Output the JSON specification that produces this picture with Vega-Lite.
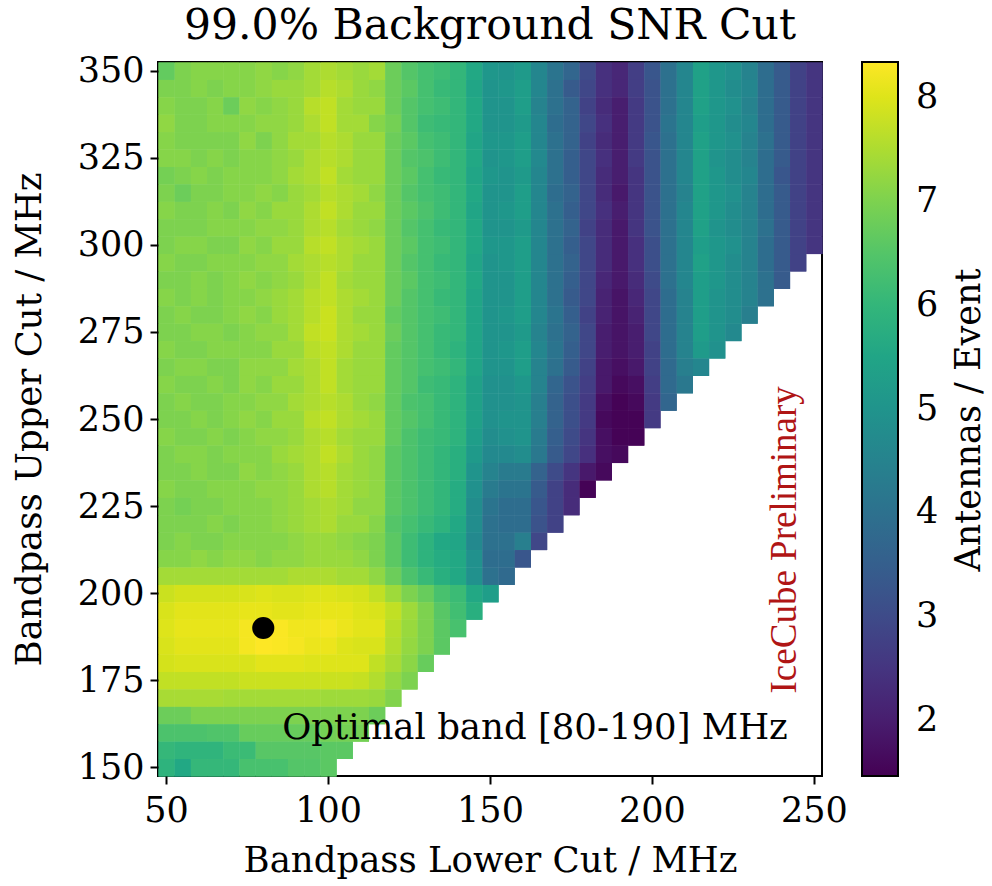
{
"$schema":"https://vega.github.io/schema/vega-lite/v6.json",
"width":664,"height":714,
"autosize":"none",
"padding":{"left":158,"top":62,"right":170,"bottom":110},
"background":"white",
"config":{
 "font":"DejaVu Serif",
 "view":{"stroke":"black","strokeWidth":2},
 "axis":{"labelFont":"DejaVu Serif","labelFontSize":35,"labelColor":"black","titleFont":"DejaVu Serif","titleFontSize":35.5,"titleFontWeight":"normal","titleColor":"black","tickColor":"black","tickWidth":2,"tickSize":8,"domain":false,"grid":false,"labelPadding":6,"labelFlush":false,"labelOverlap":false},
 "axisX":{"titlePadding":15,"labelPadding":9},
 "axisY":{"titlePadding":30}
},
"title":{"text":"99.0% Background SNR Cut","font":"DejaVu Serif","fontSize":42.5,"fontWeight":"normal","color":"black","offset":6,"anchor":"middle"},
"data":{"values":[
{"l":50,"u":350,"a":6.7},{"l":55,"u":350,"a":7.0},{"l":60,"u":350,"a":7.1},{"l":65,"u":350,"a":7.1},{"l":70,"u":350,"a":7.1},{"l":75,"u":350,"a":7.1},{"l":80,"u":350,"a":7.2},{"l":85,"u":350,"a":7.1},{"l":90,"u":350,"a":7.2},{"l":95,"u":350,"a":7.4},{"l":100,"u":350,"a":7.5},{"l":105,"u":350,"a":7.4},{"l":110,"u":350,"a":7.3},{"l":115,"u":350,"a":7.4},{"l":120,"u":350,"a":6.8},{"l":125,"u":350,"a":6.5},{"l":130,"u":350,"a":6.3},{"l":135,"u":350,"a":6.2},{"l":140,"u":350,"a":6.0},{"l":145,"u":350,"a":5.6},{"l":150,"u":350,"a":5.1},{"l":155,"u":350,"a":5.0},{"l":160,"u":350,"a":5.2},{"l":165,"u":350,"a":4.6},{"l":170,"u":350,"a":4.1},{"l":175,"u":350,"a":3.7},{"l":180,"u":350,"a":3.0},{"l":185,"u":350,"a":2.4},{"l":190,"u":350,"a":2.2},{"l":195,"u":350,"a":2.7},{"l":200,"u":350,"a":3.3},{"l":205,"u":350,"a":4.0},{"l":210,"u":350,"a":4.6},{"l":215,"u":350,"a":5.4},{"l":220,"u":350,"a":5.1},{"l":225,"u":350,"a":4.9},{"l":230,"u":350,"a":4.5},{"l":235,"u":350,"a":3.9},{"l":240,"u":350,"a":3.4},{"l":245,"u":350,"a":2.8},{"l":250,"u":350,"a":2.5},
{"l":50,"u":345,"a":7.0},{"l":55,"u":345,"a":7.0},{"l":60,"u":345,"a":7.1},{"l":65,"u":345,"a":7.0},{"l":70,"u":345,"a":7.1},{"l":75,"u":345,"a":7.1},{"l":80,"u":345,"a":7.2},{"l":85,"u":345,"a":7.3},{"l":90,"u":345,"a":7.3},{"l":95,"u":345,"a":7.4},{"l":100,"u":345,"a":7.6},{"l":105,"u":345,"a":7.5},{"l":110,"u":345,"a":7.3},{"l":115,"u":345,"a":7.2},{"l":120,"u":345,"a":6.8},{"l":125,"u":345,"a":6.6},{"l":130,"u":345,"a":6.3},{"l":135,"u":345,"a":6.1},{"l":140,"u":345,"a":6.0},{"l":145,"u":345,"a":5.5},{"l":150,"u":345,"a":5.0},{"l":155,"u":345,"a":5.1},{"l":160,"u":345,"a":5.3},{"l":165,"u":345,"a":4.6},{"l":170,"u":345,"a":4.0},{"l":175,"u":345,"a":3.4},{"l":180,"u":345,"a":2.9},{"l":185,"u":345,"a":2.4},{"l":190,"u":345,"a":2.2},{"l":195,"u":345,"a":2.7},{"l":200,"u":345,"a":3.2},{"l":205,"u":345,"a":4.0},{"l":210,"u":345,"a":4.6},{"l":215,"u":345,"a":5.4},{"l":220,"u":345,"a":5.1},{"l":225,"u":345,"a":4.8},{"l":230,"u":345,"a":4.6},{"l":235,"u":345,"a":3.9},{"l":240,"u":345,"a":3.4},{"l":245,"u":345,"a":2.8},{"l":250,"u":345,"a":2.5},
{"l":50,"u":340,"a":7.1},{"l":55,"u":340,"a":7.0},{"l":60,"u":340,"a":7.0},{"l":65,"u":340,"a":7.1},{"l":70,"u":340,"a":6.8},{"l":75,"u":340,"a":7.2},{"l":80,"u":340,"a":7.1},{"l":85,"u":340,"a":7.2},{"l":90,"u":340,"a":7.3},{"l":95,"u":340,"a":7.6},{"l":100,"u":340,"a":7.7},{"l":105,"u":340,"a":7.4},{"l":110,"u":340,"a":7.3},{"l":115,"u":340,"a":7.3},{"l":120,"u":340,"a":6.8},{"l":125,"u":340,"a":6.5},{"l":130,"u":340,"a":6.3},{"l":135,"u":340,"a":6.2},{"l":140,"u":340,"a":6.0},{"l":145,"u":340,"a":5.6},{"l":150,"u":340,"a":5.0},{"l":155,"u":340,"a":5.0},{"l":160,"u":340,"a":5.3},{"l":165,"u":340,"a":4.5},{"l":170,"u":340,"a":4.0},{"l":175,"u":340,"a":3.6},{"l":180,"u":340,"a":2.8},{"l":185,"u":340,"a":2.3},{"l":190,"u":340,"a":2.0},{"l":195,"u":340,"a":2.6},{"l":200,"u":340,"a":3.2},{"l":205,"u":340,"a":4.0},{"l":210,"u":340,"a":4.6},{"l":215,"u":340,"a":5.4},{"l":220,"u":340,"a":5.1},{"l":225,"u":340,"a":4.9},{"l":230,"u":340,"a":4.5},{"l":235,"u":340,"a":3.9},{"l":240,"u":340,"a":3.4},{"l":245,"u":340,"a":2.8},{"l":250,"u":340,"a":2.5},
{"l":50,"u":335,"a":7.2},{"l":55,"u":335,"a":7.0},{"l":60,"u":335,"a":7.0},{"l":65,"u":335,"a":7.1},{"l":70,"u":335,"a":7.1},{"l":75,"u":335,"a":7.1},{"l":80,"u":335,"a":7.2},{"l":85,"u":335,"a":7.2},{"l":90,"u":335,"a":7.3},{"l":95,"u":335,"a":7.5},{"l":100,"u":335,"a":7.7},{"l":105,"u":335,"a":7.4},{"l":110,"u":335,"a":7.4},{"l":115,"u":335,"a":7.1},{"l":120,"u":335,"a":6.9},{"l":125,"u":335,"a":6.5},{"l":130,"u":335,"a":6.2},{"l":135,"u":335,"a":6.1},{"l":140,"u":335,"a":6.0},{"l":145,"u":335,"a":5.6},{"l":150,"u":335,"a":5.0},{"l":155,"u":335,"a":5.0},{"l":160,"u":335,"a":5.2},{"l":165,"u":335,"a":4.6},{"l":170,"u":335,"a":3.9},{"l":175,"u":335,"a":3.6},{"l":180,"u":335,"a":2.9},{"l":185,"u":335,"a":2.4},{"l":190,"u":335,"a":2.0},{"l":195,"u":335,"a":2.6},{"l":200,"u":335,"a":3.2},{"l":205,"u":335,"a":4.1},{"l":210,"u":335,"a":4.6},{"l":215,"u":335,"a":5.3},{"l":220,"u":335,"a":5.1},{"l":225,"u":335,"a":4.8},{"l":230,"u":335,"a":4.6},{"l":235,"u":335,"a":3.9},{"l":240,"u":335,"a":3.4},{"l":245,"u":335,"a":2.8},{"l":250,"u":335,"a":2.5},
{"l":50,"u":330,"a":7.1},{"l":55,"u":330,"a":7.0},{"l":60,"u":330,"a":7.0},{"l":65,"u":330,"a":7.0},{"l":70,"u":330,"a":7.0},{"l":75,"u":330,"a":7.2},{"l":80,"u":330,"a":7.0},{"l":85,"u":330,"a":7.2},{"l":90,"u":330,"a":7.4},{"l":95,"u":330,"a":7.4},{"l":100,"u":330,"a":7.6},{"l":105,"u":330,"a":7.5},{"l":110,"u":330,"a":7.3},{"l":115,"u":330,"a":7.3},{"l":120,"u":330,"a":6.8},{"l":125,"u":330,"a":6.6},{"l":130,"u":330,"a":6.3},{"l":135,"u":330,"a":6.2},{"l":140,"u":330,"a":6.0},{"l":145,"u":330,"a":5.5},{"l":150,"u":330,"a":5.1},{"l":155,"u":330,"a":5.1},{"l":160,"u":330,"a":5.3},{"l":165,"u":330,"a":4.6},{"l":170,"u":330,"a":4.0},{"l":175,"u":330,"a":3.6},{"l":180,"u":330,"a":2.8},{"l":185,"u":330,"a":2.3},{"l":190,"u":330,"a":2.0},{"l":195,"u":330,"a":2.6},{"l":200,"u":330,"a":3.3},{"l":205,"u":330,"a":4.0},{"l":210,"u":330,"a":4.6},{"l":215,"u":330,"a":5.4},{"l":220,"u":330,"a":5.1},{"l":225,"u":330,"a":4.9},{"l":230,"u":330,"a":4.5},{"l":235,"u":330,"a":4.0},{"l":240,"u":330,"a":3.4},{"l":245,"u":330,"a":2.8},{"l":250,"u":330,"a":2.5},
{"l":50,"u":325,"a":7.1},{"l":55,"u":325,"a":7.1},{"l":60,"u":325,"a":7.0},{"l":65,"u":325,"a":7.1},{"l":70,"u":325,"a":7.0},{"l":75,"u":325,"a":7.1},{"l":80,"u":325,"a":7.1},{"l":85,"u":325,"a":7.2},{"l":90,"u":325,"a":7.3},{"l":95,"u":325,"a":7.5},{"l":100,"u":325,"a":7.6},{"l":105,"u":325,"a":7.5},{"l":110,"u":325,"a":7.3},{"l":115,"u":325,"a":7.3},{"l":120,"u":325,"a":6.8},{"l":125,"u":325,"a":6.5},{"l":130,"u":325,"a":6.4},{"l":135,"u":325,"a":6.2},{"l":140,"u":325,"a":6.0},{"l":145,"u":325,"a":5.6},{"l":150,"u":325,"a":5.0},{"l":155,"u":325,"a":5.1},{"l":160,"u":325,"a":5.3},{"l":165,"u":325,"a":4.7},{"l":170,"u":325,"a":4.0},{"l":175,"u":325,"a":3.5},{"l":180,"u":325,"a":2.9},{"l":185,"u":325,"a":2.4},{"l":190,"u":325,"a":2.0},{"l":195,"u":325,"a":2.6},{"l":200,"u":325,"a":3.2},{"l":205,"u":325,"a":4.0},{"l":210,"u":325,"a":4.6},{"l":215,"u":325,"a":5.4},{"l":220,"u":325,"a":5.0},{"l":225,"u":325,"a":4.8},{"l":230,"u":325,"a":4.5},{"l":235,"u":325,"a":3.9},{"l":240,"u":325,"a":3.4},{"l":245,"u":325,"a":2.8},{"l":250,"u":325,"a":2.5},
{"l":50,"u":320,"a":6.9},{"l":55,"u":320,"a":7.0},{"l":60,"u":320,"a":7.1},{"l":65,"u":320,"a":7.0},{"l":70,"u":320,"a":7.1},{"l":75,"u":320,"a":7.1},{"l":80,"u":320,"a":7.1},{"l":85,"u":320,"a":7.2},{"l":90,"u":320,"a":7.4},{"l":95,"u":320,"a":7.5},{"l":100,"u":320,"a":7.7},{"l":105,"u":320,"a":7.4},{"l":110,"u":320,"a":7.3},{"l":115,"u":320,"a":7.3},{"l":120,"u":320,"a":6.8},{"l":125,"u":320,"a":6.6},{"l":130,"u":320,"a":6.3},{"l":135,"u":320,"a":6.1},{"l":140,"u":320,"a":6.0},{"l":145,"u":320,"a":5.5},{"l":150,"u":320,"a":5.1},{"l":155,"u":320,"a":5.0},{"l":160,"u":320,"a":5.2},{"l":165,"u":320,"a":4.6},{"l":170,"u":320,"a":4.0},{"l":175,"u":320,"a":3.5},{"l":180,"u":320,"a":2.9},{"l":185,"u":320,"a":2.3},{"l":190,"u":320,"a":2.0},{"l":195,"u":320,"a":2.5},{"l":200,"u":320,"a":3.2},{"l":205,"u":320,"a":4.0},{"l":210,"u":320,"a":4.6},{"l":215,"u":320,"a":5.4},{"l":220,"u":320,"a":5.1},{"l":225,"u":320,"a":4.8},{"l":230,"u":320,"a":4.6},{"l":235,"u":320,"a":3.9},{"l":240,"u":320,"a":3.3},{"l":245,"u":320,"a":2.8},{"l":250,"u":320,"a":2.5},
{"l":50,"u":315,"a":7.0},{"l":55,"u":315,"a":6.8},{"l":60,"u":315,"a":7.0},{"l":65,"u":315,"a":7.0},{"l":70,"u":315,"a":7.1},{"l":75,"u":315,"a":7.1},{"l":80,"u":315,"a":7.2},{"l":85,"u":315,"a":7.1},{"l":90,"u":315,"a":7.3},{"l":95,"u":315,"a":7.4},{"l":100,"u":315,"a":7.6},{"l":105,"u":315,"a":7.5},{"l":110,"u":315,"a":7.4},{"l":115,"u":315,"a":7.2},{"l":120,"u":315,"a":6.8},{"l":125,"u":315,"a":6.5},{"l":130,"u":315,"a":6.3},{"l":135,"u":315,"a":6.2},{"l":140,"u":315,"a":6.0},{"l":145,"u":315,"a":5.6},{"l":150,"u":315,"a":5.0},{"l":155,"u":315,"a":5.0},{"l":160,"u":315,"a":5.3},{"l":165,"u":315,"a":4.6},{"l":170,"u":315,"a":3.9},{"l":175,"u":315,"a":3.6},{"l":180,"u":315,"a":2.9},{"l":185,"u":315,"a":2.3},{"l":190,"u":315,"a":1.9},{"l":195,"u":315,"a":2.5},{"l":200,"u":315,"a":3.2},{"l":205,"u":315,"a":4.0},{"l":210,"u":315,"a":4.5},{"l":215,"u":315,"a":5.4},{"l":220,"u":315,"a":5.1},{"l":225,"u":315,"a":4.9},{"l":230,"u":315,"a":4.5},{"l":235,"u":315,"a":3.9},{"l":240,"u":315,"a":3.4},{"l":245,"u":315,"a":2.8},{"l":250,"u":315,"a":2.5},
{"l":50,"u":310,"a":7.1},{"l":55,"u":310,"a":7.0},{"l":60,"u":310,"a":7.0},{"l":65,"u":310,"a":7.1},{"l":70,"u":310,"a":7.0},{"l":75,"u":310,"a":7.2},{"l":80,"u":310,"a":7.1},{"l":85,"u":310,"a":7.3},{"l":90,"u":310,"a":7.3},{"l":95,"u":310,"a":7.5},{"l":100,"u":310,"a":7.7},{"l":105,"u":310,"a":7.5},{"l":110,"u":310,"a":7.3},{"l":115,"u":310,"a":7.3},{"l":120,"u":310,"a":6.8},{"l":125,"u":310,"a":6.6},{"l":130,"u":310,"a":6.4},{"l":135,"u":310,"a":6.2},{"l":140,"u":310,"a":6.0},{"l":145,"u":310,"a":5.5},{"l":150,"u":310,"a":5.0},{"l":155,"u":310,"a":5.1},{"l":160,"u":310,"a":5.3},{"l":165,"u":310,"a":4.6},{"l":170,"u":310,"a":4.0},{"l":175,"u":310,"a":3.5},{"l":180,"u":310,"a":2.9},{"l":185,"u":310,"a":2.4},{"l":190,"u":310,"a":2.0},{"l":195,"u":310,"a":2.5},{"l":200,"u":310,"a":3.2},{"l":205,"u":310,"a":4.0},{"l":210,"u":310,"a":4.6},{"l":215,"u":310,"a":5.4},{"l":220,"u":310,"a":5.1},{"l":225,"u":310,"a":4.8},{"l":230,"u":310,"a":4.5},{"l":235,"u":310,"a":3.9},{"l":240,"u":310,"a":3.4},{"l":245,"u":310,"a":2.8},{"l":250,"u":310,"a":2.5},
{"l":50,"u":305,"a":7.0},{"l":55,"u":305,"a":7.0},{"l":60,"u":305,"a":7.0},{"l":65,"u":305,"a":7.1},{"l":70,"u":305,"a":7.1},{"l":75,"u":305,"a":7.1},{"l":80,"u":305,"a":7.2},{"l":85,"u":305,"a":7.2},{"l":90,"u":305,"a":7.3},{"l":95,"u":305,"a":7.5},{"l":100,"u":305,"a":7.6},{"l":105,"u":305,"a":7.4},{"l":110,"u":305,"a":7.3},{"l":115,"u":305,"a":7.2},{"l":120,"u":305,"a":6.8},{"l":125,"u":305,"a":6.5},{"l":130,"u":305,"a":6.3},{"l":135,"u":305,"a":6.1},{"l":140,"u":305,"a":6.0},{"l":145,"u":305,"a":5.6},{"l":150,"u":305,"a":5.0},{"l":155,"u":305,"a":5.0},{"l":160,"u":305,"a":5.2},{"l":165,"u":305,"a":4.6},{"l":170,"u":305,"a":4.0},{"l":175,"u":305,"a":3.6},{"l":180,"u":305,"a":2.8},{"l":185,"u":305,"a":2.3},{"l":190,"u":305,"a":1.9},{"l":195,"u":305,"a":2.5},{"l":200,"u":305,"a":3.2},{"l":205,"u":305,"a":4.0},{"l":210,"u":305,"a":4.6},{"l":215,"u":305,"a":5.4},{"l":220,"u":305,"a":5.0},{"l":225,"u":305,"a":4.8},{"l":230,"u":305,"a":4.5},{"l":235,"u":305,"a":4.0},{"l":240,"u":305,"a":3.4},{"l":245,"u":305,"a":2.8},{"l":250,"u":305,"a":2.5},
{"l":50,"u":300,"a":7.0},{"l":55,"u":300,"a":7.1},{"l":60,"u":300,"a":7.1},{"l":65,"u":300,"a":7.0},{"l":70,"u":300,"a":7.0},{"l":75,"u":300,"a":7.2},{"l":80,"u":300,"a":7.1},{"l":85,"u":300,"a":7.3},{"l":90,"u":300,"a":7.3},{"l":95,"u":300,"a":7.6},{"l":100,"u":300,"a":7.7},{"l":105,"u":300,"a":7.5},{"l":110,"u":300,"a":7.4},{"l":115,"u":300,"a":7.3},{"l":120,"u":300,"a":6.8},{"l":125,"u":300,"a":6.6},{"l":130,"u":300,"a":6.3},{"l":135,"u":300,"a":6.2},{"l":140,"u":300,"a":6.0},{"l":145,"u":300,"a":5.6},{"l":150,"u":300,"a":5.1},{"l":155,"u":300,"a":5.1},{"l":160,"u":300,"a":5.3},{"l":165,"u":300,"a":4.6},{"l":170,"u":300,"a":4.0},{"l":175,"u":300,"a":3.5},{"l":180,"u":300,"a":2.9},{"l":185,"u":300,"a":2.3},{"l":190,"u":300,"a":1.9},{"l":195,"u":300,"a":2.4},{"l":200,"u":300,"a":3.1},{"l":205,"u":300,"a":4.0},{"l":210,"u":300,"a":4.6},{"l":215,"u":300,"a":5.3},{"l":220,"u":300,"a":5.1},{"l":225,"u":300,"a":4.9},{"l":230,"u":300,"a":4.5},{"l":235,"u":300,"a":3.9},{"l":240,"u":300,"a":3.4},{"l":245,"u":300,"a":2.8},{"l":250,"u":300,"a":2.5},
{"l":50,"u":295,"a":7.1},{"l":55,"u":295,"a":7.0},{"l":60,"u":295,"a":7.0},{"l":65,"u":295,"a":7.1},{"l":70,"u":295,"a":7.1},{"l":75,"u":295,"a":7.1},{"l":80,"u":295,"a":7.2},{"l":85,"u":295,"a":7.2},{"l":90,"u":295,"a":7.4},{"l":95,"u":295,"a":7.5},{"l":100,"u":295,"a":7.6},{"l":105,"u":295,"a":7.5},{"l":110,"u":295,"a":7.3},{"l":115,"u":295,"a":7.3},{"l":120,"u":295,"a":6.8},{"l":125,"u":295,"a":6.5},{"l":130,"u":295,"a":6.3},{"l":135,"u":295,"a":6.1},{"l":140,"u":295,"a":6.0},{"l":145,"u":295,"a":5.5},{"l":150,"u":295,"a":5.0},{"l":155,"u":295,"a":5.1},{"l":160,"u":295,"a":5.3},{"l":165,"u":295,"a":4.6},{"l":170,"u":295,"a":4.0},{"l":175,"u":295,"a":3.6},{"l":180,"u":295,"a":2.9},{"l":185,"u":295,"a":2.3},{"l":190,"u":295,"a":1.9},{"l":195,"u":295,"a":2.4},{"l":200,"u":295,"a":3.1},{"l":205,"u":295,"a":4.0},{"l":210,"u":295,"a":4.6},{"l":215,"u":295,"a":5.4},{"l":220,"u":295,"a":5.1},{"l":225,"u":295,"a":4.8},{"l":230,"u":295,"a":4.5},{"l":235,"u":295,"a":3.9},{"l":240,"u":295,"a":3.4},{"l":245,"u":295,"a":2.8},
{"l":50,"u":290,"a":7.0},{"l":55,"u":290,"a":7.0},{"l":60,"u":290,"a":7.1},{"l":65,"u":290,"a":7.0},{"l":70,"u":290,"a":7.1},{"l":75,"u":290,"a":7.2},{"l":80,"u":290,"a":7.1},{"l":85,"u":290,"a":7.2},{"l":90,"u":290,"a":7.3},{"l":95,"u":290,"a":7.5},{"l":100,"u":290,"a":7.7},{"l":105,"u":290,"a":7.4},{"l":110,"u":290,"a":7.3},{"l":115,"u":290,"a":7.3},{"l":120,"u":290,"a":6.8},{"l":125,"u":290,"a":6.6},{"l":130,"u":290,"a":6.3},{"l":135,"u":290,"a":6.2},{"l":140,"u":290,"a":6.0},{"l":145,"u":290,"a":5.6},{"l":150,"u":290,"a":5.0},{"l":155,"u":290,"a":5.0},{"l":160,"u":290,"a":5.3},{"l":165,"u":290,"a":4.6},{"l":170,"u":290,"a":4.0},{"l":175,"u":290,"a":3.5},{"l":180,"u":290,"a":2.9},{"l":185,"u":290,"a":2.2},{"l":190,"u":290,"a":1.9},{"l":195,"u":290,"a":2.3},{"l":200,"u":290,"a":3.0},{"l":205,"u":290,"a":4.0},{"l":210,"u":290,"a":4.6},{"l":215,"u":290,"a":5.3},{"l":220,"u":290,"a":5.1},{"l":225,"u":290,"a":4.8},{"l":230,"u":290,"a":4.5},{"l":235,"u":290,"a":4.0},{"l":240,"u":290,"a":3.4},
{"l":50,"u":285,"a":7.1},{"l":55,"u":285,"a":7.0},{"l":60,"u":285,"a":7.1},{"l":65,"u":285,"a":7.0},{"l":70,"u":285,"a":7.1},{"l":75,"u":285,"a":7.1},{"l":80,"u":285,"a":7.2},{"l":85,"u":285,"a":7.3},{"l":90,"u":285,"a":7.4},{"l":95,"u":285,"a":7.6},{"l":100,"u":285,"a":7.7},{"l":105,"u":285,"a":7.5},{"l":110,"u":285,"a":7.4},{"l":115,"u":285,"a":7.3},{"l":120,"u":285,"a":6.8},{"l":125,"u":285,"a":6.5},{"l":130,"u":285,"a":6.3},{"l":135,"u":285,"a":6.1},{"l":140,"u":285,"a":6.0},{"l":145,"u":285,"a":5.5},{"l":150,"u":285,"a":5.0},{"l":155,"u":285,"a":5.0},{"l":160,"u":285,"a":5.3},{"l":165,"u":285,"a":4.6},{"l":170,"u":285,"a":4.0},{"l":175,"u":285,"a":3.4},{"l":180,"u":285,"a":2.9},{"l":185,"u":285,"a":2.1},{"l":190,"u":285,"a":1.8},{"l":195,"u":285,"a":2.2},{"l":200,"u":285,"a":2.9},{"l":205,"u":285,"a":3.9},{"l":210,"u":285,"a":4.5},{"l":215,"u":285,"a":5.3},{"l":220,"u":285,"a":5.0},{"l":225,"u":285,"a":4.8},{"l":230,"u":285,"a":4.5},{"l":235,"u":285,"a":4.0},
{"l":50,"u":280,"a":7.0},{"l":55,"u":280,"a":7.1},{"l":60,"u":280,"a":7.0},{"l":65,"u":280,"a":7.0},{"l":70,"u":280,"a":7.1},{"l":75,"u":280,"a":7.2},{"l":80,"u":280,"a":7.1},{"l":85,"u":280,"a":7.3},{"l":90,"u":280,"a":7.4},{"l":95,"u":280,"a":7.6},{"l":100,"u":280,"a":7.8},{"l":105,"u":280,"a":7.5},{"l":110,"u":280,"a":7.3},{"l":115,"u":280,"a":7.3},{"l":120,"u":280,"a":6.7},{"l":125,"u":280,"a":6.5},{"l":130,"u":280,"a":6.3},{"l":135,"u":280,"a":6.2},{"l":140,"u":280,"a":6.0},{"l":145,"u":280,"a":5.5},{"l":150,"u":280,"a":5.0},{"l":155,"u":280,"a":5.1},{"l":160,"u":280,"a":5.3},{"l":165,"u":280,"a":4.6},{"l":170,"u":280,"a":4.1},{"l":175,"u":280,"a":3.5},{"l":180,"u":280,"a":2.8},{"l":185,"u":280,"a":2.1},{"l":190,"u":280,"a":1.8},{"l":195,"u":280,"a":2.1},{"l":200,"u":280,"a":2.9},{"l":205,"u":280,"a":3.9},{"l":210,"u":280,"a":4.5},{"l":215,"u":280,"a":5.3},{"l":220,"u":280,"a":5.0},{"l":225,"u":280,"a":4.8},{"l":230,"u":280,"a":4.4},
{"l":50,"u":275,"a":7.0},{"l":55,"u":275,"a":7.0},{"l":60,"u":275,"a":7.1},{"l":65,"u":275,"a":7.1},{"l":70,"u":275,"a":7.0},{"l":75,"u":275,"a":7.1},{"l":80,"u":275,"a":7.2},{"l":85,"u":275,"a":7.2},{"l":90,"u":275,"a":7.4},{"l":95,"u":275,"a":7.7},{"l":100,"u":275,"a":7.8},{"l":105,"u":275,"a":7.5},{"l":110,"u":275,"a":7.4},{"l":115,"u":275,"a":7.3},{"l":120,"u":275,"a":6.8},{"l":125,"u":275,"a":6.5},{"l":130,"u":275,"a":6.3},{"l":135,"u":275,"a":6.1},{"l":140,"u":275,"a":6.0},{"l":145,"u":275,"a":5.5},{"l":150,"u":275,"a":5.0},{"l":155,"u":275,"a":5.0},{"l":160,"u":275,"a":5.2},{"l":165,"u":275,"a":4.5},{"l":170,"u":275,"a":4.0},{"l":175,"u":275,"a":3.6},{"l":180,"u":275,"a":2.9},{"l":185,"u":275,"a":2.0},{"l":190,"u":275,"a":1.8},{"l":195,"u":275,"a":2.0},{"l":200,"u":275,"a":2.9},{"l":205,"u":275,"a":3.9},{"l":210,"u":275,"a":4.5},{"l":215,"u":275,"a":5.3},{"l":220,"u":275,"a":5.0},{"l":225,"u":275,"a":4.7},
{"l":50,"u":270,"a":7.1},{"l":55,"u":270,"a":7.0},{"l":60,"u":270,"a":7.0},{"l":65,"u":270,"a":7.1},{"l":70,"u":270,"a":7.1},{"l":75,"u":270,"a":7.1},{"l":80,"u":270,"a":7.1},{"l":85,"u":270,"a":7.3},{"l":90,"u":270,"a":7.3},{"l":95,"u":270,"a":7.6},{"l":100,"u":270,"a":7.7},{"l":105,"u":270,"a":7.5},{"l":110,"u":270,"a":7.3},{"l":115,"u":270,"a":7.3},{"l":120,"u":270,"a":6.7},{"l":125,"u":270,"a":6.5},{"l":130,"u":270,"a":6.3},{"l":135,"u":270,"a":6.1},{"l":140,"u":270,"a":5.9},{"l":145,"u":270,"a":5.5},{"l":150,"u":270,"a":5.0},{"l":155,"u":270,"a":5.1},{"l":160,"u":270,"a":5.3},{"l":165,"u":270,"a":4.6},{"l":170,"u":270,"a":4.1},{"l":175,"u":270,"a":3.5},{"l":180,"u":270,"a":2.9},{"l":185,"u":270,"a":2.0},{"l":190,"u":270,"a":1.8},{"l":195,"u":270,"a":2.0},{"l":200,"u":270,"a":2.8},{"l":205,"u":270,"a":3.9},{"l":210,"u":270,"a":4.5},{"l":215,"u":270,"a":5.2},{"l":220,"u":270,"a":4.9},
{"l":50,"u":265,"a":7.0},{"l":55,"u":265,"a":7.1},{"l":60,"u":265,"a":7.1},{"l":65,"u":265,"a":7.0},{"l":70,"u":265,"a":7.0},{"l":75,"u":265,"a":7.2},{"l":80,"u":265,"a":7.2},{"l":85,"u":265,"a":7.2},{"l":90,"u":265,"a":7.4},{"l":95,"u":265,"a":7.5},{"l":100,"u":265,"a":7.7},{"l":105,"u":265,"a":7.4},{"l":110,"u":265,"a":7.3},{"l":115,"u":265,"a":7.3},{"l":120,"u":265,"a":6.7},{"l":125,"u":265,"a":6.5},{"l":130,"u":265,"a":6.3},{"l":135,"u":265,"a":6.2},{"l":140,"u":265,"a":6.0},{"l":145,"u":265,"a":5.5},{"l":150,"u":265,"a":5.0},{"l":155,"u":265,"a":5.0},{"l":160,"u":265,"a":5.3},{"l":165,"u":265,"a":4.5},{"l":170,"u":265,"a":4.0},{"l":175,"u":265,"a":3.4},{"l":180,"u":265,"a":2.8},{"l":185,"u":265,"a":1.9},{"l":190,"u":265,"a":1.7},{"l":195,"u":265,"a":1.9},{"l":200,"u":265,"a":2.8},{"l":205,"u":265,"a":3.8},{"l":210,"u":265,"a":4.4},{"l":215,"u":265,"a":4.6},
{"l":50,"u":260,"a":7.1},{"l":55,"u":260,"a":7.0},{"l":60,"u":260,"a":7.0},{"l":65,"u":260,"a":7.1},{"l":70,"u":260,"a":7.0},{"l":75,"u":260,"a":7.2},{"l":80,"u":260,"a":7.1},{"l":85,"u":260,"a":7.3},{"l":90,"u":260,"a":7.3},{"l":95,"u":260,"a":7.5},{"l":100,"u":260,"a":7.7},{"l":105,"u":260,"a":7.4},{"l":110,"u":260,"a":7.3},{"l":115,"u":260,"a":7.3},{"l":120,"u":260,"a":6.7},{"l":125,"u":260,"a":6.5},{"l":130,"u":260,"a":6.2},{"l":135,"u":260,"a":6.1},{"l":140,"u":260,"a":5.9},{"l":145,"u":260,"a":5.4},{"l":150,"u":260,"a":4.9},{"l":155,"u":260,"a":4.9},{"l":160,"u":260,"a":5.1},{"l":165,"u":260,"a":4.5},{"l":170,"u":260,"a":3.7},{"l":175,"u":260,"a":3.2},{"l":180,"u":260,"a":2.7},{"l":185,"u":260,"a":1.9},{"l":190,"u":260,"a":1.6},{"l":195,"u":260,"a":1.7},{"l":200,"u":260,"a":2.7},{"l":205,"u":260,"a":3.8},{"l":210,"u":260,"a":4.2},
{"l":50,"u":255,"a":7.0},{"l":55,"u":255,"a":7.1},{"l":60,"u":255,"a":7.0},{"l":65,"u":255,"a":7.0},{"l":70,"u":255,"a":7.1},{"l":75,"u":255,"a":7.1},{"l":80,"u":255,"a":7.2},{"l":85,"u":255,"a":7.2},{"l":90,"u":255,"a":7.4},{"l":95,"u":255,"a":7.5},{"l":100,"u":255,"a":7.6},{"l":105,"u":255,"a":7.5},{"l":110,"u":255,"a":7.3},{"l":115,"u":255,"a":7.2},{"l":120,"u":255,"a":6.7},{"l":125,"u":255,"a":6.4},{"l":130,"u":255,"a":6.3},{"l":135,"u":255,"a":6.1},{"l":140,"u":255,"a":5.9},{"l":145,"u":255,"a":5.4},{"l":150,"u":255,"a":4.9},{"l":155,"u":255,"a":4.9},{"l":160,"u":255,"a":5.0},{"l":165,"u":255,"a":4.4},{"l":170,"u":255,"a":3.6},{"l":175,"u":255,"a":3.1},{"l":180,"u":255,"a":2.6},{"l":185,"u":255,"a":1.7},{"l":190,"u":255,"a":1.5},{"l":195,"u":255,"a":1.6},{"l":200,"u":255,"a":2.6},{"l":205,"u":255,"a":3.7},
{"l":50,"u":250,"a":7.0},{"l":55,"u":250,"a":7.0},{"l":60,"u":250,"a":7.1},{"l":65,"u":250,"a":7.0},{"l":70,"u":250,"a":7.1},{"l":75,"u":250,"a":7.2},{"l":80,"u":250,"a":7.1},{"l":85,"u":250,"a":7.3},{"l":90,"u":250,"a":7.3},{"l":95,"u":250,"a":7.6},{"l":100,"u":250,"a":7.7},{"l":105,"u":250,"a":7.5},{"l":110,"u":250,"a":7.4},{"l":115,"u":250,"a":7.3},{"l":120,"u":250,"a":6.7},{"l":125,"u":250,"a":6.5},{"l":130,"u":250,"a":6.3},{"l":135,"u":250,"a":6.1},{"l":140,"u":250,"a":5.9},{"l":145,"u":250,"a":5.4},{"l":150,"u":250,"a":4.9},{"l":155,"u":250,"a":5.0},{"l":160,"u":250,"a":5.0},{"l":165,"u":250,"a":4.4},{"l":170,"u":250,"a":3.6},{"l":175,"u":250,"a":3.1},{"l":180,"u":250,"a":2.6},{"l":185,"u":250,"a":1.6},{"l":190,"u":250,"a":1.5},{"l":195,"u":250,"a":1.5},{"l":200,"u":250,"a":2.6},
{"l":50,"u":245,"a":7.1},{"l":55,"u":245,"a":7.0},{"l":60,"u":245,"a":7.0},{"l":65,"u":245,"a":7.1},{"l":70,"u":245,"a":7.0},{"l":75,"u":245,"a":7.1},{"l":80,"u":245,"a":7.2},{"l":85,"u":245,"a":7.2},{"l":90,"u":245,"a":7.3},{"l":95,"u":245,"a":7.5},{"l":100,"u":245,"a":7.6},{"l":105,"u":245,"a":7.4},{"l":110,"u":245,"a":7.3},{"l":115,"u":245,"a":7.3},{"l":120,"u":245,"a":6.7},{"l":125,"u":245,"a":6.4},{"l":130,"u":245,"a":6.2},{"l":135,"u":245,"a":6.1},{"l":140,"u":245,"a":5.9},{"l":145,"u":245,"a":5.3},{"l":150,"u":245,"a":4.8},{"l":155,"u":245,"a":4.9},{"l":160,"u":245,"a":5.0},{"l":165,"u":245,"a":4.3},{"l":170,"u":245,"a":3.5},{"l":175,"u":245,"a":3.0},{"l":180,"u":245,"a":2.5},{"l":185,"u":245,"a":1.7},{"l":190,"u":245,"a":1.5},{"l":195,"u":245,"a":1.5},
{"l":50,"u":240,"a":7.0},{"l":55,"u":240,"a":7.1},{"l":60,"u":240,"a":7.1},{"l":65,"u":240,"a":7.0},{"l":70,"u":240,"a":7.1},{"l":75,"u":240,"a":7.1},{"l":80,"u":240,"a":7.1},{"l":85,"u":240,"a":7.3},{"l":90,"u":240,"a":7.4},{"l":95,"u":240,"a":7.5},{"l":100,"u":240,"a":7.7},{"l":105,"u":240,"a":7.5},{"l":110,"u":240,"a":7.3},{"l":115,"u":240,"a":7.2},{"l":120,"u":240,"a":6.6},{"l":125,"u":240,"a":6.4},{"l":130,"u":240,"a":6.2},{"l":135,"u":240,"a":6.0},{"l":140,"u":240,"a":5.8},{"l":145,"u":240,"a":5.2},{"l":150,"u":240,"a":4.7},{"l":155,"u":240,"a":4.7},{"l":160,"u":240,"a":4.8},{"l":165,"u":240,"a":4.2},{"l":170,"u":240,"a":3.4},{"l":175,"u":240,"a":2.9},{"l":180,"u":240,"a":2.4},{"l":185,"u":240,"a":1.7},{"l":190,"u":240,"a":1.6},
{"l":50,"u":235,"a":7.0},{"l":55,"u":235,"a":7.0},{"l":60,"u":235,"a":7.1},{"l":65,"u":235,"a":7.0},{"l":70,"u":235,"a":7.0},{"l":75,"u":235,"a":7.2},{"l":80,"u":235,"a":7.1},{"l":85,"u":235,"a":7.2},{"l":90,"u":235,"a":7.3},{"l":95,"u":235,"a":7.5},{"l":100,"u":235,"a":7.6},{"l":105,"u":235,"a":7.4},{"l":110,"u":235,"a":7.3},{"l":115,"u":235,"a":7.2},{"l":120,"u":235,"a":6.6},{"l":125,"u":235,"a":6.4},{"l":130,"u":235,"a":6.2},{"l":135,"u":235,"a":6.0},{"l":140,"u":235,"a":5.8},{"l":145,"u":235,"a":5.0},{"l":150,"u":235,"a":4.5},{"l":155,"u":235,"a":4.3},{"l":160,"u":235,"a":4.3},{"l":165,"u":235,"a":3.6},{"l":170,"u":235,"a":3.0},{"l":175,"u":235,"a":2.5},{"l":180,"u":235,"a":1.9},{"l":185,"u":235,"a":1.6},
{"l":50,"u":230,"a":7.1},{"l":55,"u":230,"a":7.0},{"l":60,"u":230,"a":7.0},{"l":65,"u":230,"a":7.1},{"l":70,"u":230,"a":7.1},{"l":75,"u":230,"a":7.1},{"l":80,"u":230,"a":7.2},{"l":85,"u":230,"a":7.2},{"l":90,"u":230,"a":7.3},{"l":95,"u":230,"a":7.5},{"l":100,"u":230,"a":7.6},{"l":105,"u":230,"a":7.4},{"l":110,"u":230,"a":7.3},{"l":115,"u":230,"a":7.2},{"l":120,"u":230,"a":6.6},{"l":125,"u":230,"a":6.4},{"l":130,"u":230,"a":6.2},{"l":135,"u":230,"a":6.0},{"l":140,"u":230,"a":5.7},{"l":145,"u":230,"a":4.9},{"l":150,"u":230,"a":4.3},{"l":155,"u":230,"a":4.1},{"l":160,"u":230,"a":4.1},{"l":165,"u":230,"a":3.4},{"l":170,"u":230,"a":2.8},{"l":175,"u":230,"a":2.3},{"l":180,"u":230,"a":1.5},
{"l":50,"u":225,"a":7.0},{"l":55,"u":225,"a":6.9},{"l":60,"u":225,"a":7.0},{"l":65,"u":225,"a":7.0},{"l":70,"u":225,"a":7.1},{"l":75,"u":225,"a":7.1},{"l":80,"u":225,"a":7.1},{"l":85,"u":225,"a":7.2},{"l":90,"u":225,"a":7.3},{"l":95,"u":225,"a":7.4},{"l":100,"u":225,"a":7.5},{"l":105,"u":225,"a":7.4},{"l":110,"u":225,"a":7.2},{"l":115,"u":225,"a":7.2},{"l":120,"u":225,"a":6.6},{"l":125,"u":225,"a":6.4},{"l":130,"u":225,"a":6.2},{"l":135,"u":225,"a":6.0},{"l":140,"u":225,"a":5.7},{"l":145,"u":225,"a":4.8},{"l":150,"u":225,"a":4.1},{"l":155,"u":225,"a":3.9},{"l":160,"u":225,"a":3.9},{"l":165,"u":225,"a":3.3},{"l":170,"u":225,"a":2.8},{"l":175,"u":225,"a":2.3},
{"l":50,"u":220,"a":7.0},{"l":55,"u":220,"a":7.0},{"l":60,"u":220,"a":7.0},{"l":65,"u":220,"a":7.1},{"l":70,"u":220,"a":7.0},{"l":75,"u":220,"a":7.1},{"l":80,"u":220,"a":7.1},{"l":85,"u":220,"a":7.2},{"l":90,"u":220,"a":7.3},{"l":95,"u":220,"a":7.4},{"l":100,"u":220,"a":7.5},{"l":105,"u":220,"a":7.3},{"l":110,"u":220,"a":7.3},{"l":115,"u":220,"a":7.1},{"l":120,"u":220,"a":6.5},{"l":125,"u":220,"a":6.3},{"l":130,"u":220,"a":6.1},{"l":135,"u":220,"a":5.9},{"l":140,"u":220,"a":5.6},{"l":145,"u":220,"a":4.8},{"l":150,"u":220,"a":4.0},{"l":155,"u":220,"a":3.9},{"l":160,"u":220,"a":3.9},{"l":165,"u":220,"a":3.2},{"l":170,"u":220,"a":2.8},
{"l":50,"u":215,"a":7.0},{"l":55,"u":215,"a":7.1},{"l":60,"u":215,"a":7.0},{"l":65,"u":215,"a":7.0},{"l":70,"u":215,"a":7.1},{"l":75,"u":215,"a":7.1},{"l":80,"u":215,"a":7.1},{"l":85,"u":215,"a":7.1},{"l":90,"u":215,"a":7.2},{"l":95,"u":215,"a":7.3},{"l":100,"u":215,"a":7.3},{"l":105,"u":215,"a":7.2},{"l":110,"u":215,"a":7.1},{"l":115,"u":215,"a":7.0},{"l":120,"u":215,"a":6.6},{"l":125,"u":215,"a":6.2},{"l":130,"u":215,"a":5.9},{"l":135,"u":215,"a":5.6},{"l":140,"u":215,"a":5.5},{"l":145,"u":215,"a":4.7},{"l":150,"u":215,"a":4.0},{"l":155,"u":215,"a":4.0},{"l":160,"u":215,"a":4.4},{"l":165,"u":215,"a":2.9},
{"l":50,"u":210,"a":7.1},{"l":55,"u":210,"a":7.1},{"l":60,"u":210,"a":7.2},{"l":65,"u":210,"a":7.1},{"l":70,"u":210,"a":7.2},{"l":75,"u":210,"a":7.2},{"l":80,"u":210,"a":7.1},{"l":85,"u":210,"a":7.2},{"l":90,"u":210,"a":7.2},{"l":95,"u":210,"a":7.3},{"l":100,"u":210,"a":7.3},{"l":105,"u":210,"a":7.3},{"l":110,"u":210,"a":7.2},{"l":115,"u":210,"a":7.0},{"l":120,"u":210,"a":6.6},{"l":125,"u":210,"a":6.2},{"l":130,"u":210,"a":5.9},{"l":135,"u":210,"a":5.7},{"l":140,"u":210,"a":5.6},{"l":145,"u":210,"a":4.9},{"l":150,"u":210,"a":3.9},{"l":155,"u":210,"a":3.9},{"l":160,"u":210,"a":3.3},
{"l":50,"u":205,"a":7.4},{"l":55,"u":205,"a":7.4},{"l":60,"u":205,"a":7.4},{"l":65,"u":205,"a":7.4},{"l":70,"u":205,"a":7.4},{"l":75,"u":205,"a":7.4},{"l":80,"u":205,"a":7.4},{"l":85,"u":205,"a":7.4},{"l":90,"u":205,"a":7.5},{"l":95,"u":205,"a":7.5},{"l":100,"u":205,"a":7.5},{"l":105,"u":205,"a":7.4},{"l":110,"u":205,"a":7.4},{"l":115,"u":205,"a":7.2},{"l":120,"u":205,"a":6.8},{"l":125,"u":205,"a":6.4},{"l":130,"u":205,"a":6.1},{"l":135,"u":205,"a":5.8},{"l":140,"u":205,"a":5.6},{"l":145,"u":205,"a":4.9},{"l":150,"u":205,"a":4.0},{"l":155,"u":205,"a":3.8},
{"l":50,"u":200,"a":7.8},{"l":55,"u":200,"a":7.9},{"l":60,"u":200,"a":7.9},{"l":65,"u":200,"a":7.9},{"l":70,"u":200,"a":7.9},{"l":75,"u":200,"a":7.95},{"l":80,"u":200,"a":8.0},{"l":85,"u":200,"a":7.95},{"l":90,"u":200,"a":7.95},{"l":95,"u":200,"a":8.0},{"l":100,"u":200,"a":8.0},{"l":105,"u":200,"a":7.95},{"l":110,"u":200,"a":7.9},{"l":115,"u":200,"a":7.7},{"l":120,"u":200,"a":7.35},{"l":125,"u":200,"a":7.0},{"l":130,"u":200,"a":6.75},{"l":135,"u":200,"a":6.35},{"l":140,"u":200,"a":6.15},{"l":145,"u":200,"a":5.6},{"l":150,"u":200,"a":5.3},
{"l":50,"u":195,"a":7.95},{"l":55,"u":195,"a":8.05},{"l":60,"u":195,"a":8.05},{"l":65,"u":195,"a":8.05},{"l":70,"u":195,"a":8.05},{"l":75,"u":195,"a":8.1},{"l":80,"u":195,"a":8.1},{"l":85,"u":195,"a":8.05},{"l":90,"u":195,"a":8.05},{"l":95,"u":195,"a":8.1},{"l":100,"u":195,"a":8.1},{"l":105,"u":195,"a":8.1},{"l":110,"u":195,"a":8.0},{"l":115,"u":195,"a":7.95},{"l":120,"u":195,"a":7.7},{"l":125,"u":195,"a":7.35},{"l":130,"u":195,"a":7.0},{"l":135,"u":195,"a":6.55},{"l":140,"u":195,"a":6.25},{"l":145,"u":195,"a":5.8},
{"l":50,"u":190,"a":8.0},{"l":55,"u":190,"a":8.1},{"l":60,"u":190,"a":8.1},{"l":65,"u":190,"a":8.1},{"l":70,"u":190,"a":8.1},{"l":75,"u":190,"a":8.25},{"l":80,"u":190,"a":8.3},{"l":85,"u":190,"a":8.3},{"l":90,"u":190,"a":8.2},{"l":95,"u":190,"a":8.2},{"l":100,"u":190,"a":8.25},{"l":105,"u":190,"a":8.15},{"l":110,"u":190,"a":8.05},{"l":115,"u":190,"a":8.05},{"l":120,"u":190,"a":7.6},{"l":125,"u":190,"a":7.3},{"l":130,"u":190,"a":7.0},{"l":135,"u":190,"a":6.6},{"l":140,"u":190,"a":6.35},
{"l":50,"u":185,"a":7.95},{"l":55,"u":185,"a":8.05},{"l":60,"u":185,"a":8.05},{"l":65,"u":185,"a":8.05},{"l":70,"u":185,"a":8.05},{"l":75,"u":185,"a":8.25},{"l":80,"u":185,"a":8.34},{"l":85,"u":185,"a":8.3},{"l":90,"u":185,"a":8.25},{"l":95,"u":185,"a":8.15},{"l":100,"u":185,"a":8.15},{"l":105,"u":185,"a":8.0},{"l":110,"u":185,"a":7.95},{"l":115,"u":185,"a":7.95},{"l":120,"u":185,"a":7.55},{"l":125,"u":185,"a":7.25},{"l":130,"u":185,"a":7.0},{"l":135,"u":185,"a":6.6},
{"l":50,"u":180,"a":7.9},{"l":55,"u":180,"a":7.95},{"l":60,"u":180,"a":7.95},{"l":65,"u":180,"a":7.95},{"l":70,"u":180,"a":7.95},{"l":75,"u":180,"a":7.95},{"l":80,"u":180,"a":8.05},{"l":85,"u":180,"a":8.05},{"l":90,"u":180,"a":8.05},{"l":95,"u":180,"a":8.0},{"l":100,"u":180,"a":8.0},{"l":105,"u":180,"a":8.0},{"l":110,"u":180,"a":8.0},{"l":115,"u":180,"a":7.7},{"l":120,"u":180,"a":7.45},{"l":125,"u":180,"a":7.15},{"l":130,"u":180,"a":6.75},
{"l":50,"u":175,"a":7.7},{"l":55,"u":175,"a":7.7},{"l":60,"u":175,"a":7.7},{"l":65,"u":175,"a":7.7},{"l":70,"u":175,"a":7.7},{"l":75,"u":175,"a":7.8},{"l":80,"u":175,"a":7.8},{"l":85,"u":175,"a":7.8},{"l":90,"u":175,"a":7.8},{"l":95,"u":175,"a":7.8},{"l":100,"u":175,"a":7.8},{"l":105,"u":175,"a":7.8},{"l":110,"u":175,"a":7.75},{"l":115,"u":175,"a":7.55},{"l":120,"u":175,"a":7.25},{"l":125,"u":175,"a":7.0},
{"l":50,"u":170,"a":7.45},{"l":55,"u":170,"a":7.45},{"l":60,"u":170,"a":7.45},{"l":65,"u":170,"a":7.45},{"l":70,"u":170,"a":7.4},{"l":75,"u":170,"a":7.4},{"l":80,"u":170,"a":7.4},{"l":85,"u":170,"a":7.4},{"l":90,"u":170,"a":7.4},{"l":95,"u":170,"a":7.4},{"l":100,"u":170,"a":7.35},{"l":105,"u":170,"a":7.35},{"l":110,"u":170,"a":7.35},{"l":115,"u":170,"a":7.3},{"l":120,"u":170,"a":7.05},
{"l":50,"u":165,"a":6.8},{"l":55,"u":165,"a":6.8},{"l":60,"u":165,"a":7.0},{"l":65,"u":165,"a":7.0},{"l":70,"u":165,"a":7.0},{"l":75,"u":165,"a":7.0},{"l":80,"u":165,"a":7.0},{"l":85,"u":165,"a":7.0},{"l":90,"u":165,"a":7.0},{"l":95,"u":165,"a":7.0},{"l":100,"u":165,"a":7.0},{"l":105,"u":165,"a":7.0},{"l":110,"u":165,"a":7.0},{"l":115,"u":165,"a":6.8},
{"l":50,"u":160,"a":6.4},{"l":55,"u":160,"a":6.4},{"l":60,"u":160,"a":6.4},{"l":65,"u":160,"a":6.45},{"l":70,"u":160,"a":6.45},{"l":75,"u":160,"a":6.75},{"l":80,"u":160,"a":6.75},{"l":85,"u":160,"a":6.75},{"l":90,"u":160,"a":6.75},{"l":95,"u":160,"a":6.75},{"l":100,"u":160,"a":6.9},{"l":105,"u":160,"a":6.9},{"l":110,"u":160,"a":6.9},
{"l":50,"u":155,"a":6.05},{"l":55,"u":155,"a":5.95},{"l":60,"u":155,"a":5.95},{"l":65,"u":155,"a":5.95},{"l":70,"u":155,"a":6.15},{"l":75,"u":155,"a":6.15},{"l":80,"u":155,"a":6.55},{"l":85,"u":155,"a":6.55},{"l":90,"u":155,"a":6.55},{"l":95,"u":155,"a":6.55},{"l":100,"u":155,"a":6.6},{"l":105,"u":155,"a":6.6},
{"l":50,"u":150,"a":5.9},{"l":55,"u":150,"a":5.6},{"l":60,"u":150,"a":6.05},{"l":65,"u":150,"a":6.05},{"l":70,"u":150,"a":6.05},{"l":75,"u":150,"a":6.35},{"l":80,"u":150,"a":6.35},{"l":85,"u":150,"a":6.35},{"l":90,"u":150,"a":6.5},{"l":95,"u":150,"a":6.5},{"l":100,"u":150,"a":6.6}
]},
"layer":[
{"mark":{"type":"rect"},
"encoding":{
 "x":{"field":"l","type":"quantitative","bin":{"step":5,"extent":[47.5,252.5],"nice":false},"scale":{"domain":[47.5,252.5],"nice":false,"zero":false},"axis":{"title":"Bandpass Lower Cut / MHz","values":[50,100,150,200,250]}},
 "y":{"field":"u","type":"quantitative","bin":{"step":5,"extent":[147.5,352.5],"nice":false},"scale":{"domain":[147.5,352.5],"nice":false,"zero":false},"axis":{"title":"Bandpass Upper Cut / MHz","values":[150,175,200,225,250,275,300,325,350]}},
 "color":{"field":"a","type":"quantitative","scale":{"scheme":"viridis","domain":[1.46,8.34]},
  "legend":{"type":"gradient","title":"Antennas / Event","orient":"right","offset":40,"gradientLength":714,"gradientThickness":36,"gradientStrokeColor":"black","gradientStrokeWidth":2,"values":[2,3,4,5,6,7,8],"format":"d","labelFont":"DejaVu Serif","labelFontSize":35,"labelColor":"black","labelOffset":18,"titleOrient":"right","titleFont":"DejaVu Serif","titleFontSize":35,"titleFontWeight":"normal","titleColor":"black","titlePadding":14,"titleLimit":1000,"encoding":{"title":{"angle":{"value":270},"baseline":{"value":"top"}}}}}
}},
{"mark":{"type":"rect"},
"encoding":{
 "x":{"field":"l","type":"quantitative","bin":{"step":5,"extent":[47.5,252.5],"nice":false},"scale":{"domain":[47.5,252.5],"nice":false,"zero":false},"axis":{"title":"Bandpass Lower Cut / MHz","values":[50,100,150,200,250]}},
 "y":{"field":"u","type":"quantitative","bin":{"step":5,"extent":[147.5,352.5],"nice":false},"scale":{"domain":[147.5,352.5],"nice":false,"zero":false},"axis":{"title":"Bandpass Upper Cut / MHz","values":[150,175,200,225,250,275,300,325,350]}},
 "color":{"field":"a","type":"quantitative","scale":{"scheme":"viridis","domain":[1.46,8.34]},
  "legend":{"type":"gradient","title":"Antennas / Event","orient":"right","offset":40,"gradientLength":714,"gradientThickness":36,"gradientStrokeColor":"black","gradientStrokeWidth":2,"values":[2,3,4,5,6,7,8],"format":"d","labelFont":"DejaVu Serif","labelFontSize":35,"labelColor":"black","labelOffset":18,"titleOrient":"right","titleFont":"DejaVu Serif","titleFontSize":35,"titleFontWeight":"normal","titleColor":"black","titlePadding":14,"titleLimit":1000,"encoding":{"title":{"angle":{"value":270},"baseline":{"value":"top"}}}}}
}},
{"data":{"values":[{}]},
 "mark":{"type":"point","filled":true,"color":"black","opacity":1,"size":490},
 "encoding":{"x":{"datum":80,"type":"quantitative"},"y":{"datum":190,"type":"quantitative"}}},
{"data":{"values":[{}]},
 "mark":{"type":"text","font":"DejaVu Serif","fontSize":35.5,"color":"black","align":"center","baseline":"middle"},
 "encoding":{"x":{"datum":163.9,"type":"quantitative"},"y":{"datum":161.4,"type":"quantitative"},"text":{"value":"Optimal band [80-190] MHz"}}},
{"data":{"values":[{}]},
 "mark":{"type":"text","font":"Liberation Serif","fontSize":37,"color":"#b01515","align":"center","baseline":"middle","angle":270},
 "encoding":{"x":{"datum":241,"type":"quantitative"},"y":{"datum":215.3,"type":"quantitative"},"text":{"value":"IceCube Preliminary"}}}
]
}
